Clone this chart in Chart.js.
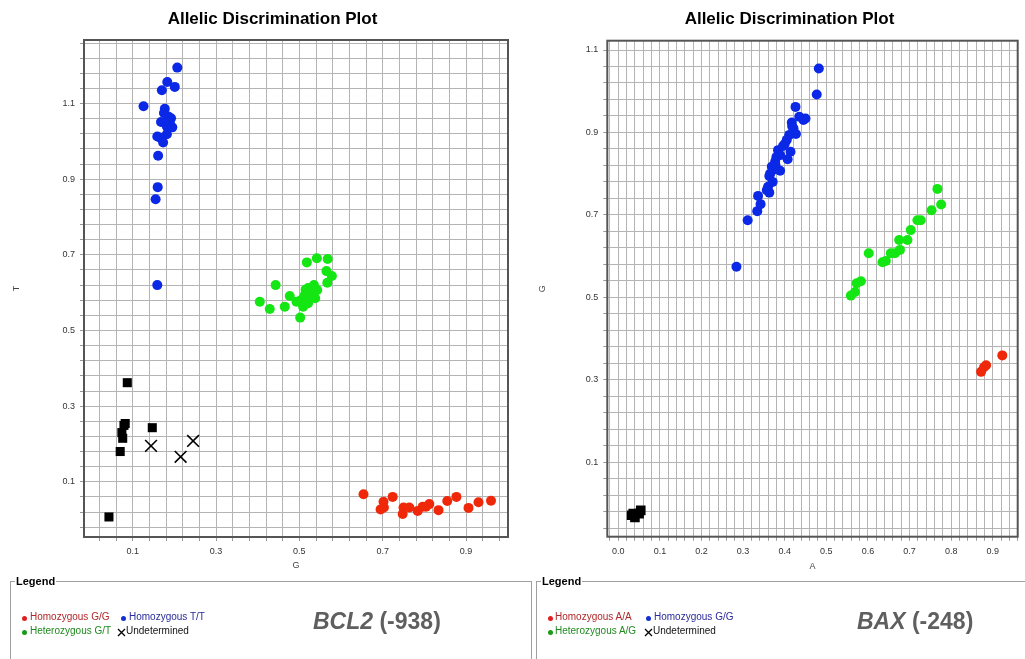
<!DOCTYPE html>
<html>
<head>
<meta charset="utf-8">
<script src="https://cdn.jsdelivr.net/npm/chart.js@4.4.1/dist/chart.umd.min.js"></script>
<style>
body { margin: 0; width: 1025px; height: 659px; overflow: hidden; background: #fff; position: relative;
       font-family: "Liberation Sans", Arial, sans-serif; }
canvas { position: absolute; top: 0; }
#bcl2Chart { left: 0; }
#baxChart { left: 530px; }
fieldset { position: absolute; top: 575px; height: 100px; margin: 0; padding: 0; min-width: 0;
           border: 1px solid #a0a0a0; box-sizing: border-box; }
legend { font-weight: bold; font-size: 11px; line-height: 12px; padding: 0 1px; margin-left: 4px; color: #000; }
.item { position: absolute; font-size: 10px; line-height: 12px; white-space: nowrap; }
.dot { position: absolute; width: 5px; height: 5px; border-radius: 50%; }
.cross { position: absolute; }
.gene { position: absolute; top: 610px; font-size: 23px; line-height: 23px; font-weight: bold; color: #5f5f5f; white-space: nowrap; }
</style>
</head>
<body>
<canvas id="bcl2Chart" width="545" height="580"></canvas>
<canvas id="baxChart" width="519" height="580"></canvas>
<fieldset style="left:10px;width:522px"><legend>Legend</legend></fieldset>
<fieldset style="left:536px;width:520px"><legend>Legend</legend></fieldset>
<div class="gene" style="left:313px"><i>BCL2</i> (-938)</div>
<div class="gene" style="left:857px"><i>BAX</i> (-248)</div>
<script>
// tick labels
const bcl2XTicks = ['0.1', '0.3', '0.5', '0.7', '0.9'];
const bcl2YTicks = ['0.1', '0.3', '0.5', '0.7', '0.9', '1.1'];
const baxXTicks = ['0.0', '0.1', '0.2', '0.3', '0.4', '0.5', '0.6', '0.7', '0.8', '0.9'];
const baxYTicks = ['0.1', '0.3', '0.5', '0.7', '0.9', '1.1'];

// legend categories
const bcl2Labels = ['Homozygous G/G', 'Homozygous T/T', 'Heterozygous G/T', 'Undetermined'];
const baxLabels = ['Homozygous A/A', 'Homozygous G/G', 'Heterozygous A/G', 'Undetermined'];

// BCL2 (-938): x = G, y = T
const bcl2GG = [[0.654,0.067],[0.702,0.047],[0.724,0.060],[0.695,0.027],[0.703,0.032],[0.750,0.032],
  [0.764,0.032],[0.748,0.015],[0.784,0.023],[0.796,0.034],[0.804,0.034],[0.812,0.041],[0.834,0.025],
  [0.855,0.049],[0.877,0.060],[0.906,0.031],[0.930,0.046],[0.960,0.050]];
const bcl2GT = [[0.518,0.680],[0.542,0.691],[0.568,0.689],[0.565,0.657],[0.578,0.644],[0.567,0.626],
  [0.443,0.620],[0.535,0.620],[0.521,0.612],[0.543,0.607],[0.477,0.591],[0.513,0.594],[0.529,0.594],
  [0.505,0.581],[0.493,0.576],[0.521,0.572],[0.405,0.576],[0.429,0.557],[0.465,0.563],[0.502,0.534],
  [0.509,0.563],[0.528,0.603],[0.515,0.608],[0.538,0.585]];
const bcl2TT = [[0.207,1.195],[0.183,1.157],[0.201,1.144],[0.170,1.135],[0.126,1.093],[0.177,1.086],
  [0.175,1.075],[0.185,1.066],[0.192,1.061],[0.189,1.052],[0.168,1.051],[0.182,1.039],[0.195,1.037],
  [0.182,1.019],[0.159,1.013],[0.165,1.010],[0.173,0.997],[0.161,0.962],[0.160,0.879],[0.155,0.847],
  [0.159,0.620]];
const bcl2NTC = [[0.087,0.362],[0.082,0.254],[0.079,0.249],[0.074,0.230],[0.076,0.215],[0.070,0.180],
  [0.147,0.243],[0.043,0.007]];
const bcl2Und = [[0.144,0.195],[0.215,0.166],[0.245,0.208]];

// BAX (-248): x = A, y = G
const baxAA = [[0.923,0.359],[0.879,0.330],[0.872,0.319],[0.884,0.335]];
const baxAG = [[0.767,0.763],[0.776,0.725],[0.753,0.711],[0.727,0.687],[0.719,0.687],[0.703,0.663],
  [0.695,0.639],[0.675,0.639],[0.677,0.615],[0.665,0.607],[0.655,0.607],[0.602,0.607],[0.643,0.588],
  [0.635,0.585],[0.583,0.539],[0.573,0.534],[0.569,0.513],[0.559,0.504]];
const baxGG = [[0.482,1.055],[0.477,0.992],[0.426,0.962],[0.435,0.938],[0.450,0.934],[0.445,0.930],
  [0.417,0.924],[0.418,0.915],[0.421,0.910],[0.427,0.896],[0.411,0.894],[0.405,0.882],[0.400,0.872],
  [0.396,0.867],[0.384,0.857],[0.414,0.853],[0.389,0.845],[0.380,0.840],[0.407,0.835],[0.377,0.829],
  [0.378,0.820],[0.369,0.817],[0.372,0.809],[0.389,0.807],[0.365,0.800],[0.363,0.794],[0.371,0.780],
  [0.360,0.768],[0.357,0.760],[0.363,0.754],[0.336,0.746],[0.342,0.726],[0.334,0.709],[0.311,0.687],
  [0.284,0.574]];
const baxNTC = [[0.032,-0.029],[0.040,-0.034],[0.050,-0.025],[0.054,-0.017],[0.036,-0.025]];

const FONT = '"Liberation Sans", Arial, sans-serif';
Chart.defaults.font.family = FONT;

const RED = '#f0280a', GREEN = '#14e614', BLUE = '#0a28e6', BLACK = '#000';

function points(label, pts, color, style, r) {
    return {
        label: label,
        data: pts.map(p => ({ x: p[0], y: p[1] })),
        pointStyle: style,
        pointRadius: r,
        pointHoverRadius: r,
        backgroundColor: color,
        borderColor: color,
        borderWidth: style == 'crossRot' ? 1.6 : 0
    };
}

function axis(min, max, gridFrom, step, labels, title, size, titlePad) {
    return {
        type: 'linear',
        min: min,
        max: max,
        bounds: 'data',
        afterBuildTicks: s => {
            var t = [];
            for (let v = gridFrom; v <= max + 1e-9; v += step) {
                t.push({ value: Math.round(v * 1000) / 1000 });
            }
            s.ticks = t;
        },
        afterFit: s => {
            if (s.isHorizontal()) s.height = size;
            else s.width = size;
        },
        ticks: {
            autoSkip: false,
            maxRotation: 0,
            padding: 5,
            color: '#333',
            font: { size: 9 },
            callback: v => {
                var l = labels.find(l => Math.abs(parseFloat(l) - v) < 1e-6);
                return l === undefined ? '' : l;
            }
        },
        grid: { color: '#b4b4b4', lineWidth: 1, tickLength: 4, tickColor: '#999' },
        border: { display: false },
        title: { display: true, text: title, color: '#444', font: { size: 9 }, padding: titlePad }
    };
}

// dark frame round the plot area
const frame = {
    id: 'frame',
    beforeDatasetsDraw(chart) {
        const ctx = chart.ctx, a = chart.chartArea;
        ctx.save();
        ctx.strokeStyle = '#555';
        ctx.lineWidth = 2;
        ctx.strokeRect(a.left, a.top, a.right - a.left, a.bottom - a.top);
        ctx.restore();
    }
};

// left padding also moves the centred title, so the y axis is made narrower by the same amount
function plot(id, sets, xs, ys, padLeft, padRight, titleBottom) {
    return new Chart(document.getElementById(id), {
        type: 'scatter',
        data: { datasets: sets },
        options: {
            responsive: false,
            animation: false,
            devicePixelRatio: 1,
            layout: { padding: { left: padLeft, right: padRight } },
            plugins: {
                legend: { display: false },
                tooltip: { enabled: false },
                title: {
                    display: true,
                    text: 'Allelic Discrimination Plot',
                    color: '#000',
                    font: { size: 17, weight: 'bold' },
                    padding: { top: 9.5, bottom: titleBottom }
                }
            },
            scales: { x: xs, y: ys }
        },
        plugins: [frame]
    });
}

plot('bcl2Chart', [
        points('NTC', bcl2NTC, BLACK, 'rect', 6.4),
        points(bcl2Labels[3], bcl2Und, BLACK, 'crossRot', 8.3),
        points(bcl2Labels[0], bcl2GG, RED, 'circle', 5),
        points(bcl2Labels[2], bcl2GT, GREEN, 'circle', 5),
        points(bcl2Labels[1], bcl2TT, BLUE, 'circle', 5)
    ],
    axis(-0.0169, 1.0008, 0.02, 0.04, bcl2XTicks, 'G', 43, { bottom: 8.6 }),
    axis(-0.046, 1.268, -0.02, 0.04, bcl2YTicks, 'T', 47, { top: -25.4 }),
    37, 37, 10.1);

plot('baxChart', [
        points('NTC', baxNTC, BLACK, 'rect', 6.8),
        points(baxLabels[0], baxAA, RED, 'circle', 5),
        points(baxLabels[2], baxAG, GREEN, 'circle', 5),
        points(baxLabels[1], baxGG, BLUE, 'circle', 5)
    ],
    axis(-0.0264, 0.960, -0.02, 0.02, baxXTicks, 'A', 43.3, { bottom: 7.9 }),
    axis(-0.081, 1.1226, -0.06, 0.04, baxYTicks, 'G', 46, { top: -23.7 }),
    31.3, 31.3, 10.8);

// html legends under each plot
const textColors = ['#b0282a', '#2b2b9b', '#1f8a1f', '#111'];
const dotColors = ['#e02020', '#1530d0', '#1a9a1a', null];

function legendItems(labels, spots) {
    labels.forEach((txt, i) => {
        var s = spots[i];
        if (dotColors[i]) {
            var d = document.createElement('div');
            d.className = 'dot';
            d.style.left = (s[0] - 2.5) + 'px';
            d.style.top = (s[1] - 2.5) + 'px';
            d.style.background = dotColors[i];
            document.body.appendChild(d);
        } else {
            var c = document.createElementNS('http://www.w3.org/2000/svg', 'svg');
            c.setAttribute('class', 'cross');
            c.setAttribute('width', 9);
            c.setAttribute('height', 9);
            c.style.left = (s[0] - 4.5) + 'px';
            c.style.top = (s[1] - 4.5) + 'px';
            c.innerHTML = '<path d="M1 1L8 8M8 1L1 8" stroke="#000" stroke-width="1.3"/>';
            document.body.appendChild(c);
        }
        var t = document.createElement('div');
        t.className = 'item';
        t.textContent = txt;
        t.style.left = s[2] + 'px';
        t.style.top = s[3] + 'px';
        t.style.color = textColors[i];
        document.body.appendChild(t);
    });
}

legendItems(bcl2Labels, [[24.3, 618, 30, 611], [123.3, 618, 129, 611], [24.3, 632.5, 30, 625], [121.7, 632, 126, 625]]);
legendItems(baxLabels, [[550, 618, 555, 611], [648.7, 618, 654, 611], [550, 632.5, 555, 625], [648.3, 632, 653, 625]]);
</script>
</body>
</html>
